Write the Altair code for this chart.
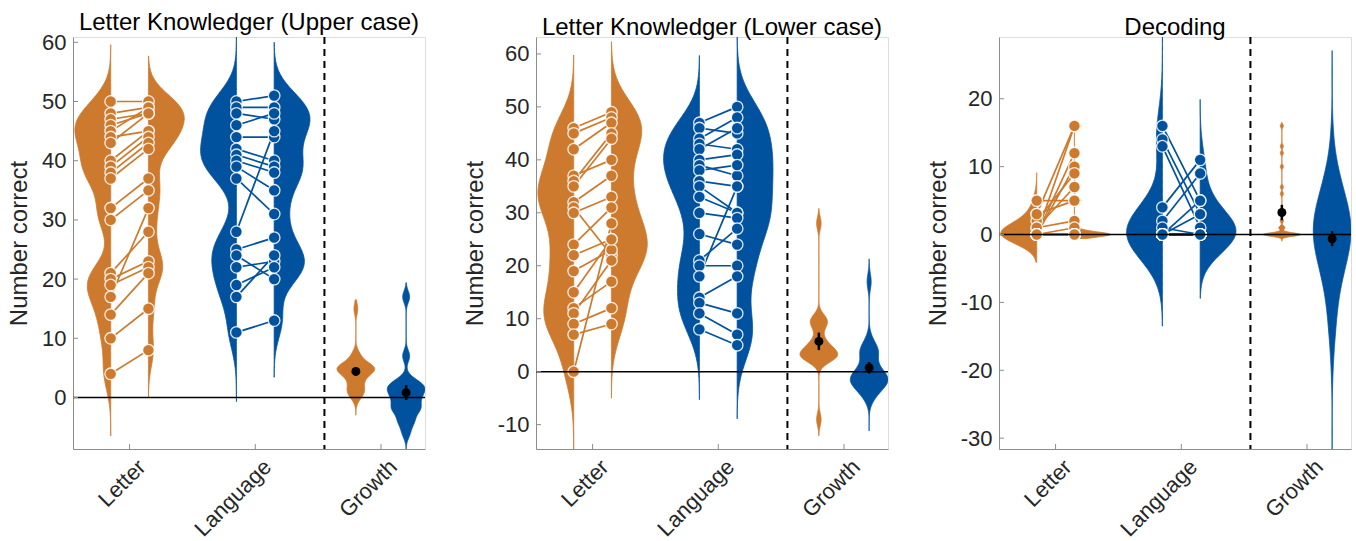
import altair as alt
import pandas as pd

FONT = "Liberation Sans"
COLORS = ["#CD7A2E", "#00529F"]
GROUPS = ["Letter", "Language"]
X_LABELS = ["Letter", "Language", "Growth"]
TITLES = ["Letter Knowledger (Upper case)", "Letter Knowledger (Lower case)", "Decoding"]
Y_TITLE = "Number correct"

# ---- data ----
UP_LET_PRE = [50, 48, 47, 46, 45, 44, 43, 40, 39, 38, 37, 32, 30, 21, 20, 19, 17, 14, 10, 4]
UP_LET_POST = [50, 49, 48, 48, 49, 45, 48, 45, 44, 43, 42, 37, 35, 28, 23, 22, 32, 21, 15, 8]
UP_LAN_PRE = [50, 49, 48, 46, 44, 42, 41, 40, 39, 37, 28, 25, 24, 22, 19, 17, 11]
UP_LAN_POST = [51, 49, 47, 48, 44, 40, 39, 38, 35, 31, 45, 27, 20, 23, 22, 24, 13]

LO_LET_PRE = [46, 45, 42, 37, 36, 35, 32, 31, 30, 24, 22, 19, 15, 12, 11, 9, 7, 0]
LO_LET_POST = [49, 48, 47, 40, 45, 44, 37, 22, 33, 31, 25, 23, 25, 17, 21, 12, 9, 28]
LO_LAN_PRE = [47, 46, 44, 43, 42, 40, 39, 38, 36, 35, 33, 30, 26, 21, 20, 18, 14, 13, 11, 8]
LO_LAN_POST = [50, 45, 48, 42, 46, 41, 37, 39, 35, 30, 30, 29, 24, 27, 20, 35, 18, 11, 7, 5]

DE_LET_PRE = [3, 0, 0, 0, 2, 1, 5, 1, 0, 3, 0, 0, 0, 0, 0, 0, 0, 0, 0, 0, 0]
DE_LET_POST = [16, 16, 12, 10, 9, 7, 5, 2, 1, 5, 0, 0, 0, 0, 0, 0, 0, 0, 0, 0, 0]
DE_LAN_PRE = [16, 14, 13, 4, 2, 0, 0, 1, 0, 0, 0, 0, 0, 0, 0, 0, 0, 0, 0, 0, 0]
DE_LAN_POST = [5, 3, 1, 11, 9, 5, 3, 0, 0, 0, 0, 0, 0, 0, 0, 0, 0, 0, 0, 0, 0]

Y_DOMAINS = [[-8.7, 60.9], [-14.6, 63.2], [-31.6, 29.1]]
Y_TICKS = [[0, 10, 20, 30, 40, 50, 60], [-10, 0, 10, 20, 30, 40, 50, 60], [-30, -20, -10, 0, 10, 20]]

# violin kernel (bandwidth, low end, high end) for: letter pre, letter post, language pre, language post,
# letter growth, language growth
VIOLINS = [
    [(3.0, -6.5, 59.6), (2.8, 0.0, 57.7), (3.3, -0.7, 62.0), (3.0, 3.4, 60.0), (1.0, -3.0, 16.5), (1.0, -10.0, 19.4)],
    [(4.5, -17.0, 59.8), (4.5, -5.0, 62.3), (4.2, -5.3, 59.7), (4.5, -8.9, 64.0), (1.2, -12.1, 30.8), (1.5, -11.2, 21.3)],
    [(1.5, -4.1, 9.1), (0.4, -0.6, 16.5), (4.0, -13.5, 30.0), (3.0, -9.4, 19.9), (0.25, -1.0, 16.5), (5.5, -33.0, 27.1)],
]

PANEL_DATA = [
    (UP_LET_PRE, UP_LET_POST, UP_LAN_PRE, UP_LAN_POST),
    (LO_LET_PRE, LO_LET_POST, LO_LAN_PRE, LO_LAN_POST),
    (DE_LET_PRE, DE_LET_POST, DE_LAN_PRE, DE_LAN_POST),
]

# ---- layout constants ----
W, H = 352, 412
X_DOMAIN = [0.55, 3.35]
PAIR_OFF = 0.15
GROWTH_OFF = 0.2
HALF_W = 0.285
GROWTH_HALF_W = 0.15
DIVIDER = 2.55
AXIS_GREY = "#8c8c8c"
TEXT = "#262626"
FS_TICK = 22
FS_TITLE = 24

xscale = alt.Scale(domain=X_DOMAIN, nice=False, zero=False)
label_js = "[" + ",".join("'%s'" % s for s in X_LABELS) + "][datum.value - 1]"
xaxis = alt.Axis(values=[1, 2, 3], labelExpr=label_js, title=None, ticks=False, grid=False,
                 domainColor=AXIS_GREY, labelAngle=315, labelAlign="right", labelBaseline="middle",
                 labelOffset=12, labelPadding=14, labelFontSize=FS_TICK, labelColor=TEXT, labelFont=FONT)
cscale = alt.Scale(domain=GROUPS, range=COLORS)


def make_panel(k):
    lp, lq, gp, gq = PANEL_DATA[k]
    yscale = alt.Scale(domain=Y_DOMAINS[k], nice=False, zero=False)
    yaxis = alt.Axis(values=Y_TICKS[k], title=Y_TITLE, ticks=False, grid=False, domainColor=AXIS_GREY,
                     labelFontSize=FS_TICK, titleFontSize=FS_TITLE, labelPadding=7, titlePadding=10,
                     labelColor=TEXT, titleColor=TEXT, titleFontWeight="normal",
                     labelExpr="'' + datum.value", labelFont=FONT, titleFont=FONT)

    def X(f):
        return alt.X(f, type="quantitative", scale=xscale, axis=xaxis)

    def Y(f):
        return alt.Y(f, type="quantitative", scale=yscale, axis=yaxis)

    rows, grows = [], []
    for gi, (g, pre, post) in enumerate([("Letter", lp, lq), ("Language", gp, gq)]):
        c = gi + 1
        for i, (a, b) in enumerate(zip(pre, post)):
            sid = "%s%d" % (g, i)
            rows.append(dict(group=g, subj=sid, time="pre", value=a, xpos=c - PAIR_OFF))
            rows.append(dict(group=g, subj=sid, time="post", value=b, xpos=c + PAIR_OFF))
            grows.append(dict(group=g, growth=b - a, xpos=3 + (GROWTH_OFF if gi else -GROWTH_OFF)))
    long = pd.DataFrame(rows)
    gdf = pd.DataFrame(grows)

    layers = []
    specs = VIOLINS[k]
    vi = 0
    for gi, g in enumerate(GROUPS):
        for t in ["pre", "post"]:
            bw, lo, hi = specs[vi]
            vi += 1
            c = gi + 1 + (PAIR_OFF if t == "post" else -PAIR_OFF)
            if t == "pre":
                xa = "%f - datum.d / datum.dmax * %f" % (c, HALF_W)
                xb = "%f" % c
            else:
                xa = "%f" % c
                xb = "%f + datum.d / datum.dmax * %f" % (c, HALF_W)
            col = COLORS[gi]
            layers.append(
                alt.Chart(long)
                .transform_filter((alt.datum.group == g) & (alt.datum.time == t))
                .transform_density("value", as_=["v", "d"], bandwidth=bw, extent=[lo, hi], steps=260)
                .transform_joinaggregate(dmax="max(d)")
                .transform_calculate(xa=xa, xb=xb)
                .mark_area(orient="horizontal", fill=col, stroke=col, strokeWidth=0.8, clip=True)
                .encode(y=Y("v"), x=X("xa"), x2=alt.X2("xb"))
            )
    for gi, g in enumerate(GROUPS):
        bw, lo, hi = specs[4 + gi]
        c = 3 + (GROWTH_OFF if gi else -GROWTH_OFF)
        col = COLORS[gi]
        layers.append(
            alt.Chart(gdf)
            .transform_filter(alt.datum.group == g)
            .transform_density("growth", as_=["v", "d"], bandwidth=bw, extent=[lo, hi], steps=400)
            .transform_joinaggregate(dmax="max(d)")
            .transform_calculate(xa="%f - datum.d / datum.dmax * %f" % (c, GROWTH_HALF_W),
                                 xb="%f + datum.d / datum.dmax * %f" % (c, GROWTH_HALF_W))
            .mark_area(orient="horizontal", fill=col, stroke=col, strokeWidth=0.8, clip=True)
            .encode(y=Y("v"), x=X("xa"), x2=alt.X2("xb"))
        )

    color = alt.Color("group:N", scale=cscale, legend=None)
    layers.append(
        alt.Chart(long).mark_line(strokeWidth=1.7, clip=True)
        .encode(x=X("xpos"), y=Y("value"), detail="subj:N", color=color)
    )
    layers.append(
        alt.Chart(long).mark_circle(size=135, opacity=1, stroke="white", strokeWidth=1.3,
                                    strokeOpacity=0.85, clip=True)
        .encode(x=X("xpos"), y=Y("value"), color=color)
    )
    layers.append(
        alt.Chart(pd.DataFrame({"z": [0]})).mark_rule(color="black", strokeWidth=1.6)
        .encode(y=Y("z"))
    )
    layers.append(
        alt.Chart(pd.DataFrame({"dv": [DIVIDER]})).mark_rule(color="black", strokeWidth=2, strokeDash=[7, 5])
        .encode(x=X("dv"))
    )
    gstat = (
        alt.Chart(gdf)
        .transform_aggregate(m="mean(growth)", se="stderr(growth)", groupby=["group", "xpos"])
        .transform_calculate(lo="datum.m - datum.se", hi="datum.m + datum.se")
    )
    layers.append(gstat.mark_rule(color="black", strokeWidth=2.5).encode(x=X("xpos"), y=Y("lo"), y2=alt.Y2("hi")))
    layers.append(gstat.mark_circle(color="black", size=80, opacity=1).encode(x=X("xpos"), y=Y("m")))
    # inward tick marks (MATLAB style)
    layers.append(
        alt.Chart(pd.DataFrame({"t": Y_TICKS[k]})).mark_rule(color=AXIS_GREY, strokeWidth=1)
        .encode(y=Y("t"), x=alt.value(0), x2=alt.value(5))
    )
    layers.append(
        alt.Chart(pd.DataFrame({"t": [1, 2, 3]})).mark_rule(color=AXIS_GREY, strokeWidth=1)
        .encode(x=X("t"), y=alt.value(H), y2=alt.value(H - 5))
    )

    return alt.layer(*layers).properties(
        width=W, height=H,
        title=alt.TitleParams(TITLES[k], fontSize=FS_TITLE, fontWeight="normal", font=FONT, color="black",
                              offset=-4, frame="group", anchor="middle"),
    )


chart = (
    alt.hconcat(make_panel(0), make_panel(1), make_panel(2), spacing=111, bounds="flush")
    .properties(padding={"left": 7, "top": 10, "right": 0, "bottom": 0})
    .configure_view(stroke=None)
    .configure(font=FONT)
)

chart.save("out.html", embed_options={"renderer": "svg", "actions": False})
